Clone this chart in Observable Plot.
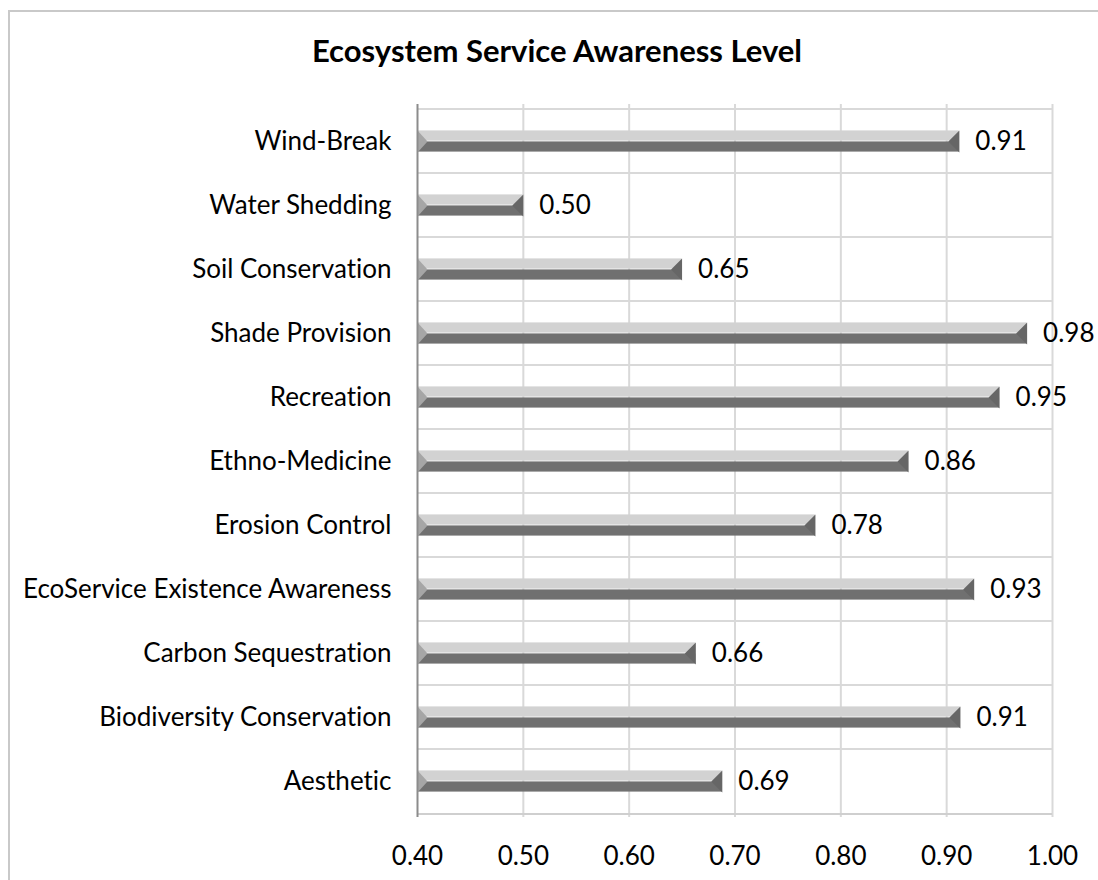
<!DOCTYPE html>
<html>
<head>
<meta charset="utf-8">
<script src="https://cdn.jsdelivr.net/npm/d3@7"></script>
<script src="https://cdn.jsdelivr.net/npm/@observablehq/plot@0.6"></script>
<style>
  body { margin: 0; background: #fff; }
  #wrap { position: relative; width: 1098px; height: 880px; overflow: hidden; background: #fff; }
  #frame { position: absolute; left: 8px; top: 10px; width: 1120px; height: 900px; border: 2px solid #c9c9c9; box-sizing: border-box; }
  #title { position: absolute; left: 8px; top: 31px; width: 1098px; text-align: center; font-family: Lato, sans-serif; font-weight: bold; font-size: 31px; line-height: 38px; color: #000; font-variant-ligatures: none; }
  #chart { position: absolute; left: 0; top: 90px; }
  #chart svg text { font-variant-ligatures: none; }
</style>
</head>
<body>
<div id="wrap">
  <div id="frame"></div>
  <div id="title">Ecosystem Service Awareness Level</div>
  <div id="chart"></div>
</div>
<script>
const categories = [
  "Wind-Break",
  "Water Shedding",
  "Soil Conservation",
  "Shade Provision",
  "Recreation",
  "Ethno-Medicine",
  "Erosion Control",
  "EcoService Existence Awareness",
  "Carbon Sequestration",
  "Biodiversity Conservation",
  "Aesthetic"
];
const values = [0.912, 0.500, 0.650, 0.976, 0.950, 0.864, 0.776, 0.926, 0.663, 0.913, 0.688];
const xTicks = [0.4, 0.5, 0.6, 0.7, 0.8, 0.9, 1.0];
const baseline = 0.4;

const data = categories.map((c, i) => ({category: c, value: values[i]}));

const W = 1098, H = 790, mT = 14, mB = 63, mL = 417, mR = 46;
const step = (H - mT - mB) / categories.length;
const barH = 22;
const inset = (step - barH) / 2;

const leftWedge = {draw(ctx) { ctx.moveTo(0, -barH / 2); ctx.lineTo(10, 0); ctx.lineTo(0, barH / 2); ctx.closePath(); }};
const rightWedge = {draw(ctx) { ctx.moveTo(0, -barH / 2); ctx.lineTo(-11, 0); ctx.lineTo(0, barH / 2); ctx.closePath(); }};
const fmt = d3.format(".2f");

const chart = Plot.plot({
  width: W, height: H,
  marginTop: mT, marginBottom: mB, marginLeft: mL, marginRight: mR,
  style: {fontFamily: "Lato, sans-serif", fontSize: "26px", color: "#000", background: "transparent", overflow: "visible"},
  x: {domain: [baseline, 1.0]},
  y: {domain: categories, padding: 0},
  marks: [
    Plot.gridX(xTicks.slice(1), {stroke: "#d9d9d9", strokeOpacity: 1, strokeWidth: 2}),
    Plot.ruleY(categories, {y: d => d, dy: -step / 2, stroke: "#d9d9d9", strokeWidth: 2}),
    Plot.ruleY(categories.slice(-1), {y: d => d, dy: step / 2, stroke: "#cfcfcf", strokeWidth: 2}),
    Plot.barX(data, {y: "category", x1: () => baseline, x2: "value", fill: "#d2d2d2", insetTop: inset, insetBottom: inset + barH / 2}),
    Plot.barX(data, {y: "category", x1: () => baseline, x2: "value", fill: "#707070", insetTop: inset + barH / 2, insetBottom: inset}),
    Plot.dot(data, {x: () => baseline, y: "category", symbol: leftWedge, fill: "#a6a6a6", stroke: "none"}),
    Plot.dot(data, {x: "value", y: "category", symbol: rightWedge, fill: "#666666", stroke: "none"}),
    Plot.ruleX([baseline], {stroke: "#8c8c8c", strokeWidth: 2}),
    Plot.text(data, {x: "value", y: "category", text: d => fmt(d.value), dx: 16, textAnchor: "start", fontSize: 26, fill: "#000"}),
    Plot.axisY({tickSize: 0, tickPadding: 26, fontSize: 26, label: null}),
    Plot.axisX({ticks: xTicks, tickSize: 0, tickPadding: 29, tickFormat: fmt, fontSize: 26, label: null})
  ]
});
document.getElementById("chart").appendChild(chart);
</script>
</body>
</html>
